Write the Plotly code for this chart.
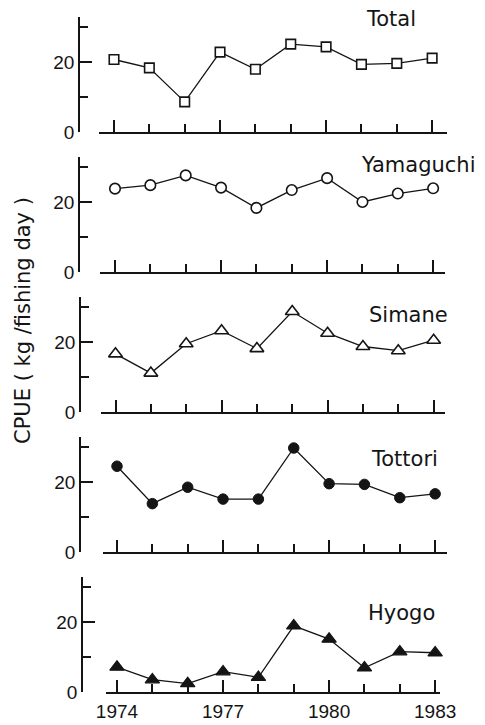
import plotly.graph_objects as go

# CPUE (kg / fishing day) by prefecture, 1974-1983
years = [1974, 1975, 1976, 1977, 1978, 1979, 1980, 1981, 1982, 1983]
total = [20.8, 18.4, 8.7, 22.9, 18.0, 25.2, 24.4, 19.4, 19.7, 21.2]
yamaguchi = [23.9, 24.9, 27.7, 24.2, 18.4, 23.5, 26.9, 20.1, 22.5, 24.0]
simane = [16.7, 11.2, 19.6, 23.3, 18.2, 28.8, 22.6, 18.8, 17.6, 20.6]
tottori = [24.6, 13.9, 18.6, 15.2, 15.2, 29.8, 19.6, 19.4, 15.6, 16.7]
hyogo = [7.2, 3.6, 2.5, 5.9, 4.3, 19.0, 15.2, 7.0, 11.6, 11.3]

panel_names = ["Total", "Yamaguchi", "Simane", "Tottori", "Hyogo"]
panel_values = [total, yamaguchi, simane, tottori, hyogo]

year_ticks = [1974, 1977, 1980, 1983]
year_labels = ["1974", "1977", "1980", "1983"]
cpue_ticks = [0, 20]
cpue_labels = ["0", "20"]
cpue_minor = [10, 30]
y_title = "CPUE ( kg /fishing day )"

# ---- page geometry (pixels) ----
W, H = 485, 725
INK = "#141414"
PX_PER_UNIT = 3.5
Y_TOP = 33.0
YEAR_STEP = 35.35

# per panel: zero-line y, 1974 tick x, x-axis start, x-axis end, y-axis x
geom = [
    (132.3, 114.0, 99, 447, 79),
    (272.3, 115.0, 100, 445, 79),
    (412.3, 115.5, 101, 445, 80),
    (552.3, 117.0, 103, 447, 80),
    (692.3, 117.0, 106, 440, 82),
]
markers = [
    dict(symbol="square", size=9.5, color="white", line=dict(color=INK, width=1.6)),
    dict(symbol="circle", size=10.5, color="white", line=dict(color=INK, width=1.6)),
    dict(symbol="triangle-up", size=12, color="white", line=dict(color=INK, width=1.6)),
    dict(symbol="circle", size=10.5, color=INK, line=dict(color=INK, width=1)),
    dict(symbol="triangle-up", size=12.5, color=INK, line=dict(color=INK, width=1.2)),
]
# label centres (pixels)
label_pos = [(391, 19), (418, 165), (408, 315), (404, 459), (401, 613)]

def px_x(x):
    return x / W

def px_y(y):
    return 1 - y / H

fig = go.Figure()
layout = dict(
    width=W, height=H,
    margin=dict(l=0, r=0, t=0, b=0, pad=0, autoexpand=False),
    paper_bgcolor="white", plot_bgcolor="white",
    showlegend=False,
    font=dict(family="DejaVu Sans", color=INK),
)
annotations = []

for i, (name, vals) in enumerate(zip(panel_names, panel_values)):
    n = i + 1
    zero, t0, xl, xr, yx = geom[i]
    xa = "x" if n == 1 else f"x{n}"
    ya = "y" if n == 1 else f"y{n}"
    fig.add_trace(go.Scatter(
        x=years, y=vals, mode="lines+markers", xaxis=xa, yaxis=ya,
        line=dict(color=INK, width=1.3), marker=markers[i],
        cliponaxis=False, name=name,
    ))
    xmin = years[0] - (t0 - xl) / YEAR_STEP
    xmax = years[0] + (xr - t0) / YEAR_STEP
    top = zero - Y_TOP * PX_PER_UNIT
    last = n == len(panel_names)
    layout[f"xaxis{'' if n == 1 else n}"] = dict(
        domain=[px_x(xl), px_x(xr)], anchor=ya, range=[xmin, xmax],
        automargin=False,
        showline=True, linecolor=INK, linewidth=1.8,
        showgrid=False, zeroline=False,
        ticks="inside", ticklen=12, tickwidth=1.8, tickcolor=INK,
        tickvals=year_ticks, ticktext=year_labels,
        showticklabels=last, ticklabelstandoff=1,
        tickfont=dict(family="Liberation Sans", size=19, color=INK),
        minor=dict(tickvals=years, ticks="inside", ticklen=8,
                   tickwidth=1.8, tickcolor=INK, showgrid=False),
        fixedrange=True,
    )
    layout[f"yaxis{'' if n == 1 else n}"] = dict(
        domain=[px_y(zero), px_y(top)], anchor="free", position=px_x(yx),
        range=[0, Y_TOP], automargin=False,
        showline=True, linecolor=INK, linewidth=1.8,
        showgrid=False, zeroline=False,
        ticks="inside", ticklen=12, tickwidth=1.8, tickcolor=INK,
        tickvals=cpue_ticks, ticktext=cpue_labels,
        tickfont=dict(family="Liberation Sans", size=19, color=INK),
        minor=dict(tickvals=cpue_minor, ticks="inside", ticklen=8,
                   tickwidth=1.8, tickcolor=INK, showgrid=False),
        fixedrange=True,
    )
    lx, ly = label_pos[i]
    annotations.append(dict(
        text=name, xref="paper", yref="paper", x=px_x(lx), y=px_y(ly),
        xanchor="center", yanchor="middle", showarrow=False,
        font=dict(family="DejaVu Sans", size=21, color=INK),
    ))

annotations.append(dict(
    text=y_title, xref="paper", yref="paper", x=px_x(23), y=px_y(321),
    xanchor="center", yanchor="middle", textangle=-90, showarrow=False,
    font=dict(family="DejaVu Sans", size=21, color=INK),
))
layout["annotations"] = annotations
fig.update_layout(**layout)

fig.write_html("out.html")
